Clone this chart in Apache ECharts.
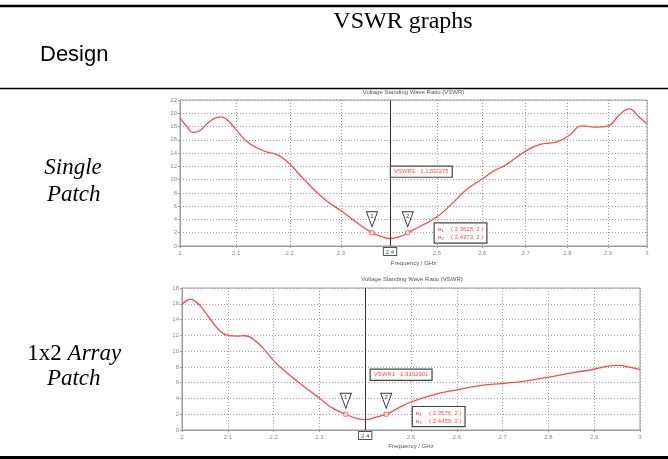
<!DOCTYPE html>
<html><head><meta charset="utf-8">
<script src="https://cdn.jsdelivr.net/npm/echarts@6/dist/echarts.min.js"></script>
<style>html,body{margin:0;padding:0;background:#fff}#c{width:668px;height:459px}</style>
</head><body><div id="c"></div>
<script>
// ---- data ----
const freqTicks = [2.0, 2.1, 2.2, 2.3, 2.4, 2.5, 2.6, 2.7, 2.8, 2.9, 3.0];
const singleYMax = 22;
const arrayYMax = 18;

const singleFreq = [2.000, 2.012, 2.023, 2.035, 2.047, 2.060, 2.072, 2.085, 2.100, 2.119, 2.138, 2.156, 2.178, 2.198, 2.226, 2.252, 2.275, 2.300, 2.338, 2.3628, 2.380, 2.400, 2.420, 2.4373, 2.470, 2.500, 2.530, 2.565, 2.600, 2.625, 2.656, 2.700, 2.734, 2.774, 2.800, 2.838, 2.872, 2.900, 2.930, 2.954, 2.978, 3.000];
const singleVswr = [19.3, 18.0, 17.1, 17.4, 18.4, 19.2, 19.45, 18.9, 17.5, 15.8, 14.8, 14.2, 13.7, 12.5, 10.15, 8.1, 6.6, 5.3, 3.2, 2.0, 1.5, 1.13, 1.4, 2.0, 3.2, 4.4, 6.2, 8.5, 10.1, 11.25, 12.3, 14.3, 15.3, 15.7, 16.5, 18.1, 17.9, 18.1, 19.8, 20.65, 19.5, 18.4];
const singleMarkers = [[2.3628, 2], [2.4373, 2]];
const singleMarkerText = ['( 2.3628, 2 )', '( 2.4373, 2 )'];
const singleVswrAt = [2.4, '1.1202275'];

const arrayFreq = [2.000, 2.010, 2.019, 2.029, 2.039, 2.050, 2.061, 2.082, 2.100, 2.120, 2.137, 2.162, 2.184, 2.200, 2.220, 2.249, 2.278, 2.300, 2.328, 2.3576, 2.379, 2.400, 2.422, 2.4459, 2.476, 2.500, 2.545, 2.600, 2.654, 2.700, 2.749, 2.800, 2.857, 2.900, 2.930, 2.952, 2.974, 3.000];
const arrayVswr = [15.9, 16.4, 16.55, 16.3, 15.8, 15.0, 14.1, 12.6, 12.0, 11.9, 11.95, 11.2, 9.9, 8.8, 7.7, 6.3, 5.0, 4.05, 2.8, 2.0, 1.5, 1.32, 1.6, 2.0, 2.9, 3.55, 4.4, 5.1, 5.65, 5.9, 6.2, 6.7, 7.3, 7.7, 8.1, 8.2, 8.0, 7.65];
const arrayMarkers = [[2.3576, 2], [2.4459, 2]];
const arrayMarkerText = ['( 2.3576, 2 )', '( 2.4459, 2 )'];
const arrayVswrAt = [2.4, '1.3192901'];

const chartTitle = 'Voltage Standing Wave Ratio (VSWR)';
const xName = 'Frequency / GHz';

// ---- styling ----
const RED = '#ff4a4a';
const SANS = '"Liberation Sans", Arial, sans-serif';
const SERIF = '"Liberation Serif", "Times New Roman", serif';
const GRAY = '#8a8a8a';

const chart = echarts.init(document.getElementById('c'), null, {renderer: 'canvas'});

function zip(a, b) { return a.map((v, i) => [v, b[i]]); }
function fmtTick(v) {
  const r = Math.round(v * 10) / 10;
  if (Math.abs(r - 2.4) < 1e-6) return '';
  return String(r);
}

function xAxisCfg(gridIndex, type, gap) {
  const c = {
    gridIndex: gridIndex, type: type, min: 2, max: 3,
    name: xName, nameLocation: 'middle', nameGap: gap,
    nameTextStyle: {fontSize: 6, color: '#555', fontFamily: SANS},
    axisLine: {show: true, lineStyle: {color: '#9a9a9a', width: 1}},
    axisTick: {show: true, length: 2, lineStyle: {color: '#9a9a9a'}, customValues: freqTicks},
    axisLabel: {fontSize: 6, color: GRAY, fontFamily: SANS, margin: 4, customValues: freqTicks, formatter: fmtTick},
    splitLine: {show: true, lineStyle: {color: '#9a9a9a', type: [1, 2], width: 1}}
  };
  if (type === 'log') c.logBase = 10;
  else c.interval = 0.1;
  return c;
}
function yAxisCfg(gridIndex, max) {
  return {
    gridIndex: gridIndex, type: 'value', min: 0, max: max, interval: 2,
    axisLine: {show: true, lineStyle: {color: '#9a9a9a', width: 1}},
    axisTick: {show: true, length: 2, lineStyle: {color: '#9a9a9a'}},
    axisLabel: {fontSize: 6, color: GRAY, fontFamily: SANS, margin: 3},
    splitLine: {show: true, lineStyle: {color: '#9a9a9a', type: [1, 2], width: 1}}
  };
}

function seriesFor(idx, freq, vswr, markers, markerText, vswrAt, boxCoord, legCoord) {
  const tri = 'path://M0,0 L10,0 L5,14 Z';
  const mp = markers.map((m, i) => ({
    coord: m, value: String(i + 1),
    symbol: tri, symbolSize: [11, 15], symbolOffset: [0, -13.5],
    itemStyle: {color: '#fff', borderColor: '#333', borderWidth: 1},
    label: {show: true, position: 'inside', formatter: String(i + 1), fontSize: 6, color: '#333', fontFamily: SANS, offset: [0, -3]}
  }));
  mp.push({
    coord: boxCoord, symbol: 'circle', symbolSize: 1,
    itemStyle: {color: 'rgba(0,0,0,0)'},
    label: {show: true, position: 'right', distance: 0, formatter: 'VSWR1 : ' + vswrAt[1],
      fontSize: 6, color: RED, fontFamily: SANS, backgroundColor: '#fff',
      borderColor: '#444', borderWidth: 1.2, padding: [2, 3, 2, 3]}
  });
  mp.push({
    coord: legCoord, symbol: 'circle', symbolSize: 1,
    itemStyle: {color: 'rgba(0,0,0,0)'},
    label: {show: true, position: 'right', distance: 0,
      formatter: '{o|o}{s|1} {t|' + markerText[0] + '}\n{o|o}{s|2} {t|' + markerText[1] + '}',
      rich: {
        o: {fontSize: 6, color: RED, fontWeight: 'bold', fontFamily: SANS, lineHeight: 8, height: 8},
        s: {fontSize: 4, color: '#555', fontFamily: SANS, lineHeight: 8, height: 8, padding: [3, 0, 0, 0]},
        t: {fontSize: 6, color: RED, fontFamily: SANS, lineHeight: 8, height: 8, padding: [0, 0, 0, 4]}
      },
      lineHeight: 8,
      backgroundColor: '#fff', borderColor: '#444', borderWidth: 1.2, padding: [2, 3, 1, 3]}
  });
  return [
    {
      type: 'line', xAxisIndex: idx, yAxisIndex: idx,
      data: zip(freq, vswr), smooth: 0.5, showSymbol: false,
      lineStyle: {color: RED, width: 1.3}, itemStyle: {color: RED},
      z: 3, silent: true,
      markLine: {
        silent: true, symbol: ['none', 'none'], animation: false,
        lineStyle: {color: '#333', type: 'solid', width: 1},
        label: {show: true, position: 'start', formatter: String(vswrAt[0]), distance: 2,
          fontSize: 6, color: '#555', fontFamily: SANS, borderColor: '#555', borderWidth: 1, padding: [1, 2, 0, 2], backgroundColor: '#fff'},
        data: [{xAxis: vswrAt[0]}]
      }
    },
    {
      type: 'scatter', xAxisIndex: idx, yAxisIndex: idx,
      data: markers, symbol: 'rect', symbolSize: 4, z: 4,
      itemStyle: {color: '#fff', borderColor: RED, borderWidth: 1},
      markPoint: {animation: false, data: mp}
    }
  ];
}

const option = {
  animation: false,
  backgroundColor: '#fff',
  grid: [
    {left: 180, top: 100, width: 467, height: 146, show: true, borderColor: '#9a9a9a', borderWidth: 1, backgroundColor: '#fff'},
    {left: 182, top: 288, width: 458, height: 142, show: true, borderColor: '#9a9a9a', borderWidth: 1, backgroundColor: '#fff'}
  ],
  xAxis: [xAxisCfg(0, 'log', 14), xAxisCfg(1, 'value', 13)],
  yAxis: [yAxisCfg(0, singleYMax), yAxisCfg(1, arrayYMax)],
  series: [].concat(
    seriesFor(0, singleFreq, singleVswr, singleMarkers, singleMarkerText, singleVswrAt, [2.401, 11.2], [2.494, 1.96]),
    seriesFor(1, arrayFreq, arrayVswr, arrayMarkers, arrayMarkerText, arrayVswrAt, [2.411, 7.0], [2.503, 1.7])
  ),
  graphic: [
    {type: 'line', shape: {x1: 0, y1: 6, x2: 668, y2: 6}, style: {stroke: '#000', lineWidth: 2.5}},
    {type: 'line', shape: {x1: 0, y1: 88.5, x2: 668, y2: 88.5}, style: {stroke: '#000', lineWidth: 1.5}},
    {type: 'line', shape: {x1: 0, y1: 457.5, x2: 668, y2: 457.5}, style: {stroke: '#000', lineWidth: 3}},
    {type: 'text', x: 403, y: 21.5, style: {text: 'VSWR graphs', font: '24px ' + SERIF, fill: '#000', textAlign: 'center', align: 'center', textVerticalAlign: 'middle', verticalAlign: 'middle'}},
    {type: 'text', x: 40, y: 55, style: {text: 'Design', font: '22px ' + SANS, fill: '#000', textAlign: 'left', align: 'left', textVerticalAlign: 'middle', verticalAlign: 'middle'}},
    {type: 'text', x: 73, y: 168, style: {text: 'Single', font: 'italic 23px ' + SERIF, fill: '#000', textAlign: 'center', align: 'center', textVerticalAlign: 'middle', verticalAlign: 'middle'}},
    {type: 'text', x: 73.7, y: 195, style: {text: 'Patch', font: 'italic 23px ' + SERIF, fill: '#000', textAlign: 'center', align: 'center', textVerticalAlign: 'middle', verticalAlign: 'middle'}},
    {type: 'text', x: 74.3, y: 354, style: {text: '{n|1x2 }{i|Array}', rich: {n: {font: '23px ' + SERIF, fill: '#000', color: '#000'}, i: {font: 'italic 23px ' + SERIF, fill: '#000', color: '#000'}}, textAlign: 'center', align: 'center', textVerticalAlign: 'middle', verticalAlign: 'middle'}},
    {type: 'text', x: 73.7, y: 379, style: {text: 'Patch', font: 'italic 23px ' + SERIF, fill: '#000', textAlign: 'center', align: 'center', textVerticalAlign: 'middle', verticalAlign: 'middle'}},
    {type: 'text', x: 413.5, y: 92, style: {text: chartTitle, font: '6px ' + SANS, fill: '#555', textAlign: 'center', align: 'center', textVerticalAlign: 'middle', verticalAlign: 'middle'}},
    {type: 'text', x: 412, y: 279, style: {text: chartTitle, font: '6px ' + SANS, fill: '#555', textAlign: 'center', align: 'center', textVerticalAlign: 'middle', verticalAlign: 'middle'}}
  ]
};
chart.setOption(option);
</script>
</body></html>
